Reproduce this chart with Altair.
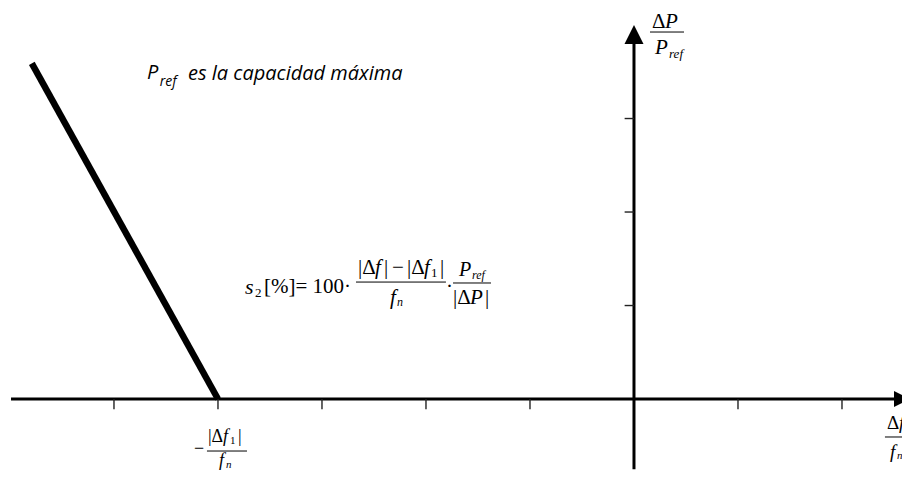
import altair as alt
import pandas as pd

# ---- chart values (axis units: one tick = 1) ----
x_ticks = [-5, -4, -3, -2, -1, 1, 2]
y_ticks = [1, 2, 3]
droop_x = [-5.79, -4.0]
droop_y = [3.59, 0.0]
x_domain = [-6.019, 2.577]
y_domain = [-0.759, 4.182]
x_axis_span = [-5.99, 2.56]
y_axis_span = [-0.75, 3.82]

W, H = 894, 462
xs = alt.Scale(domain=x_domain, nice=False, zero=False)
ys = alt.Scale(domain=y_domain, nice=False, zero=False)

def X(f="x"):
    return alt.X(f"{f}:Q", scale=xs, axis=None)

def Y(f="y"):
    return alt.Y(f"{f}:Q", scale=ys, axis=None)

# axes
axes_df = pd.DataFrame([
    {"x": x_axis_span[0], "x2": x_axis_span[1], "y": 0.0, "y2": 0.0},
    {"x": 0.0, "x2": 0.0, "y": y_axis_span[0], "y2": y_axis_span[1]},
])
axes = alt.Chart(axes_df).mark_rule(color="black", strokeWidth=3).encode(
    x=X(), x2="x2:Q", y=Y(), y2="y2:Q")

xt_df = pd.DataFrame({"x": x_ticks, "y": [0.0] * len(x_ticks), "y2": [-0.11] * len(x_ticks)})
xt = alt.Chart(xt_df).mark_rule(color="#222", strokeWidth=1.4).encode(x=X(), y=Y(), y2="y2:Q")
yt_df = pd.DataFrame({"y": y_ticks, "x": [-0.09] * len(y_ticks), "x2": [0.0] * len(y_ticks)})
yt = alt.Chart(yt_df).mark_rule(color="#222", strokeWidth=1.4).encode(x=X(), x2="x2:Q", y=Y())

# arrow heads
ya = alt.Chart(pd.DataFrame({"x": [0.0], "y": [3.898]})).mark_point(
    shape="M0,-1L1,1L-1,1Z", size=361, filled=True, color="black", opacity=1).encode(x=X(), y=Y())
xa = alt.Chart(pd.DataFrame({"x": [2.577], "y": [0.0]})).mark_point(
    shape="M1,0L-1,-1L-1,1Z", size=256, filled=True, color="black", opacity=1).encode(x=X(), y=Y())

# droop line
droop = alt.Chart(pd.DataFrame({"x": droop_x, "y": droop_y})).mark_line(
    color="black", strokeWidth=6.5, strokeCap="butt").encode(x=X(), y=Y())

# fraction bars
bars_df = pd.DataFrame([
    {"x": 0.154, "x2": 0.481, "y": 3.925},     # dP/Pref
    {"x": 2.413, "x2": 2.60, "y": -0.406},     # df/fn
    {"x": -4.106, "x2": -3.721, "y": -0.556},  # |df1|/fn
    {"x": -2.673, "x2": -1.808, "y": 1.251},   # formula frac 1
    {"x": -1.74, "x2": -1.375, "y": 1.241},    # formula frac 2
])
bars = alt.Chart(bars_df).mark_rule(color="black", strokeWidth=1).encode(
    x=X(), x2="x2:Q", y=Y())

serif_up = [
    ("Δ", 0.173, 4.035, 21),
    ("Δ", 2.433, -0.257, 19),
    ("−", -4.231, -0.535, 18),
    ("|Δ", -4.096, -0.406, 18),
    ("|", -3.808, -0.406, 18),
    ("[%]= 100·", -3.558, 1.198, 21),
    ("|Δ", -2.654, 1.401, 21),
    ("|", -2.404, 1.401, 21),
    ("−", -2.327, 1.401, 21),
    ("|Δ", -2.183, 1.401, 21),
    ("|", -1.865, 1.401, 21),
    ("·", -1.808, 1.198, 21),
    ("|Δ", -1.740, 1.080, 21),
    ("|", -1.432, 1.080, 21),
]
serif_it = [
    ("P", 0.298, 4.035, 21),
    ("P", 0.202, 3.754, 21),
    ("ref", 0.337, 3.690, 13),
    ("f", 2.548, -0.257, 19),
    ("f", 2.462, -0.567, 19),
    ("n", 2.529, -0.610, 11),
    ("f", -3.952, -0.406, 18),
    ("f", -3.990, -0.663, 18),
    ("n", -3.923, -0.706, 11),
    ("s", -3.740, 1.198, 22),
    ("f", -2.490, 1.401, 21),
    ("f", -2.019, 1.401, 21),
    ("f", -2.346, 1.080, 21),
    ("n", -2.279, 1.037, 12),
    ("P", -1.682, 1.380, 20),
    ("ref", -1.557, 1.326, 12),
    ("P", -1.577, 1.080, 21),
]
serif_sub_up = [
    ("1", -3.885, -0.449, 11),
    ("2", -3.644, 1.134, 13),
    ("1", -1.952, 1.348, 13),
]
sans_it = [
    ("P", -4.683, 3.487, 20),
    ("ref", -4.560, 3.390, 14),
    ("es la capacidad máxima", -4.288, 3.476, 20),
]

def text_layer(items, font, style):
    df = pd.DataFrame(items, columns=["t", "x", "y", "s"])
    return alt.Chart(df).mark_text(
        font=font, fontStyle=style, align="left", baseline="middle", color="black"
    ).encode(x=X(), y=Y(), text="t:N", size=alt.Size("s:Q", scale=None))

texts = [
    text_layer(serif_up, "Liberation Serif", "normal"),
    text_layer(serif_sub_up, "Liberation Serif", "normal"),
    text_layer(serif_it, "Liberation Serif", "italic"),
    text_layer(sans_it, "Open Sans", "italic"),
]

chart = alt.layer(axes, xt, yt, ya, xa, droop, bars, *texts).properties(
    width=W, height=H, padding=0, autosize=alt.AutoSizeParams(type="none")
).configure_view(stroke=None)

chart.save("out.html", embed_options={"renderer": "svg", "actions": False})
